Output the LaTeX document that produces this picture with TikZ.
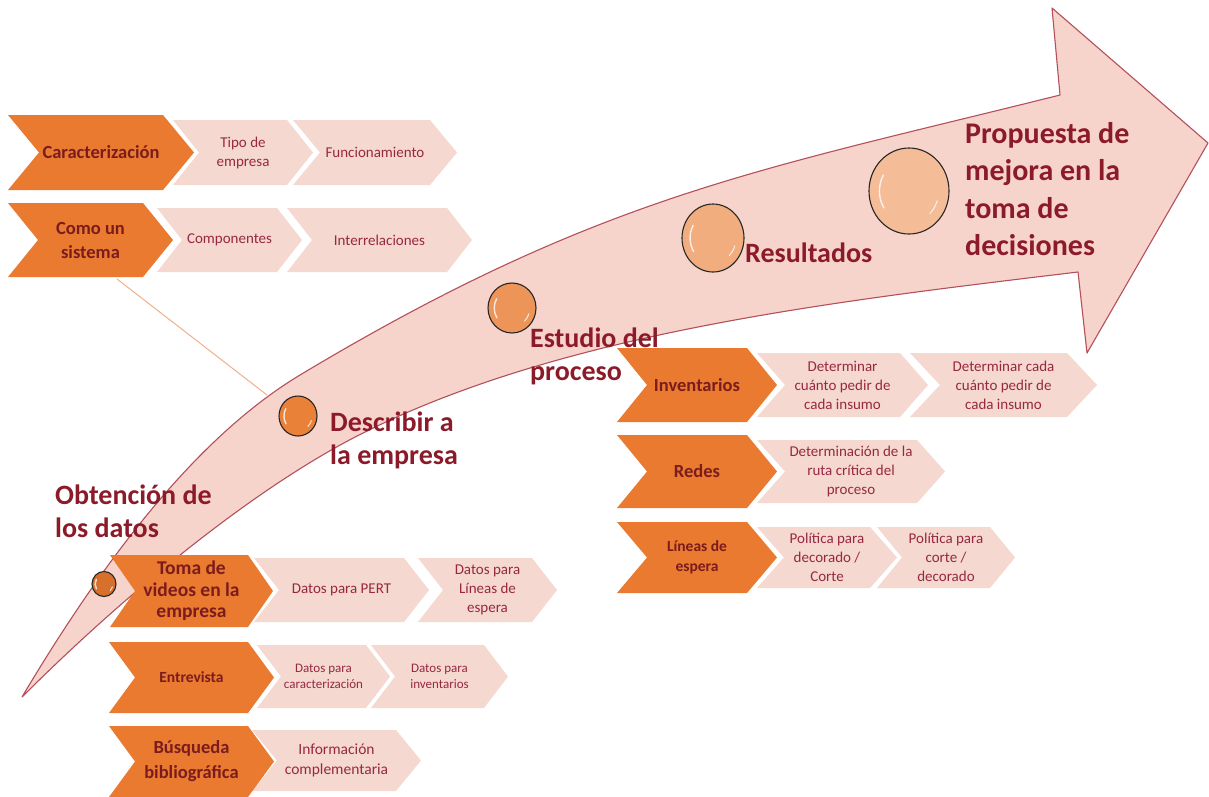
\documentclass[tikz,border=0pt]{standalone}
\usepackage{fontspec}
\setmainfont{Carlito}
\usetikzlibrary{shapes.geometric}

\definecolor{chevorange}{HTML}{E97A2F}
\definecolor{chevlight}{HTML}{F5D8CF}
\definecolor{bandfill}{HTML}{F7D4CB}
\definecolor{bandedge}{HTML}{B4505C}
\definecolor{stagetext}{HTML}{8C1B2A}
\definecolor{keytext}{HTML}{7A1C1E}
\definecolor{subtext}{HTML}{982842}
\definecolor{linkline}{HTML}{F0B08C}

\tikzset{
  keybox/.style={fill=chevorange},
  subbox/.style={fill=chevlight},
  keylabel/.style={text=keytext, align=center, inner sep=0pt, font=\bfseries\fontsize{18.5}{24}\selectfont},
  sublabel/.style={text=subtext, align=center, inner sep=0pt, font=\fontsize{15}{19}\selectfont},
  stage/.style={text=stagetext, align=left, inner sep=0pt, font=\bfseries\fontsize{28}{33}\selectfont},
  band/.style={fill=bandfill, draw=bandedge, line width=1.1pt, line join=round},
  bead/.style={ellipse, draw=black!85, line width=1.1pt, inner sep=0pt},
  glint/.style={white, line width=1.4pt, line cap=round, opacity=.8},
  tie/.style={draw=linkline, line width=1pt},
}

% chevron: style, label style, name, left, top, right, bottom, point depth, text
\newcommand\chev[9]{%
  \fill[#1] (#4,#5) -- (#6,#5) -- ({#6+#8},{(#5+#7)/2}) -- (#6,#7) -- (#4,#7)
    -- ({#4+#8},{(#5+#7)/2}) -- cycle;
  \node[#2] (#3) at ({(#4+#8+#6)/2},{(#5+#7)/2}) {#9};}

% glossy bead: name, cx, cy, rx, ry, colour
\newcommand\bead[6]{%
  \node[bead, fill=#6, minimum width=#4*2pt, minimum height=#5*2pt] (#1) at (#2,#3) {};
  \draw[glint] (#2,#3) ++(150:#4*0.74pt and #5*0.74pt)
    arc[start angle=150, end angle=212, x radius=#4*0.74pt, y radius=#5*0.74pt];
  \draw[glint, line width=1pt] (#2,#3) ++(-45:#4*0.74pt and #5*0.74pt)
    arc[start angle=-45, end angle=-18, x radius=#4*0.74pt, y radius=#5*0.74pt];}

\begin{document}
\begin{tikzpicture}[x=1pt, y=-1pt]
\useasboundingbox (0,0) rectangle (1209,796);
\fill[white] (0,0) rectangle (1209,796);
\clip (0,0) rectangle (1209,796);

% link from the system row down to the band
\coordinate (sysfoot) at (117,279);
\coordinate (bandhit) at (267,395);
\draw[tie] (sysfoot) -- (bandhit);

% the curved timeline arrow
\filldraw[band]
  (22,697) .. controls (104,559) and (197,437) .. (300,375)
           .. controls (600,195) and (760,170) .. (1060,95)
  -- (1052,8) -- (1208,143) -- (1087,353) -- (1078,272)
           .. controls (828,302) and (563,333) .. (363,433)
           .. controls (253,488) and (122,597) .. (22,697)
  -- cycle;

% row: characterisation
\chev{subbox}{sublabel}{tipo}{173}{120}{287}{185}{26}{Tipo de\\empresa}
\chev{subbox}{sublabel}{func}{293}{120}{430}{185}{27}{Funcionamiento}
\chev{keybox}{keylabel}{carac}{8}{115}{163}{190}{31}{Caracterización}

% row: as a system
\chev{subbox}{sublabel}{comp}{157}{208}{277}{272}{25}{Componentes}
\chev{subbox}{sublabel}{inter}{287}{208}{447}{272}{25}{Interrelaciones}
\chev{keybox}{keylabel}{sist}{8}{203}{143}{277}{30}{Como un\\sistema}

% rows: process study
\chev{subbox}{sublabel}{cuanto}{757}{353}{900}{417}{28}{Determinar\\cuánto pedir de\\cada insumo}
\chev{subbox}{sublabel}{cada}{910}{353}{1067}{417}{30}{Determinar cada\\cuánto pedir de\\cada insumo}
\chev{keybox}{keylabel}{inv}{617}{348}{747}{422}{30}{Inventarios}

\chev{subbox}{sublabel}{ruta}{757}{440}{917}{503}{28}{Determinación de la\\ruta crítica del\\proceso}
\chev{keybox}{keylabel}{redes}{617}{435}{747}{508}{30}{Redes}

\chev{subbox}{sublabel}{polA}{757}{527}{870}{588}{27}{Política para\\decorado /\\Corte}
\chev{subbox}{sublabel}{polB}{877}{527}{990}{588}{25}{Política para\\corte /\\decorado}
\chev{keybox}{keylabel, font=\bfseries\fontsize{15.5}{20}\selectfont}{espera}{617}{522}{747}{593}{30}{Líneas de\\espera}

% rows: data gathering
\chev{subbox}{sublabel}{pert}{254}{558}{404}{622}{25}{Datos para PERT}
\chev{subbox}{sublabel}{lineas}{418}{558}{532}{622}{25}{Datos para\\Líneas de\\espera}
\chev{keybox}{keylabel, font=\bfseries\fontsize{19.5}{21.5}\selectfont}{videos}{110}{555}{248}{627}{25}{Toma de\\videos en la\\empresa}

\chev{subbox}{sublabel, font=\fontsize{13}{16}\selectfont}{dcar}{257}{645}{366}{708}{24}{Datos para\\caracterización}
\chev{subbox}{sublabel, font=\fontsize{13}{16}\selectfont}{dinv}{371}{645}{484}{708}{24}{Datos para\\inventarios}
\chev{keybox}{keylabel, font=\bfseries\fontsize{15.5}{20}\selectfont}{entrev}{109}{642}{248}{713}{26}{Entrevista}

\chev{subbox}{sublabel, font=\fontsize{15.5}{20}\selectfont}{infocomp}{252}{730}{396}{791}{25}{Información\\complementaria}
\chev{keybox}{keylabel, font=\bfseries\fontsize{18.5}{25}\selectfont}{busq}{109}{726}{248}{797}{26}{Búsqueda\\bibliográfica}

% milestones on the band
\bead{b1}{104}{584}{12}{12.5}{chevorange!92!black}
\bead{b2}{298}{416}{19}{20}{chevorange!95!white}
\bead{b3}{512}{308}{24}{25}{chevorange!80!white}
\bead{b4}{713}{238}{31}{34}{chevorange!62!white}
\bead{b5}{909}{191}{40}{43}{chevorange!50!white}

% stage titles
\node[stage, anchor=north west] (obt) at (55,485) {Obtención de\\los datos};
\node[stage, anchor=north west] (desc) at (330,412) {Describir a\\la empresa};
\node[stage, anchor=north west] (est) at (530,328) {Estudio del\\proceso};
\node[stage, anchor=base west] (res) at (745,262) {Resultados};
\node[stage, anchor=north west, font=\bfseries\fontsize{30}{37.5}\selectfont] (prop) at (965,122)
  {Propuesta de\\mejora en la\\toma de\\decisiones};
\end{tikzpicture}
\end{document}
